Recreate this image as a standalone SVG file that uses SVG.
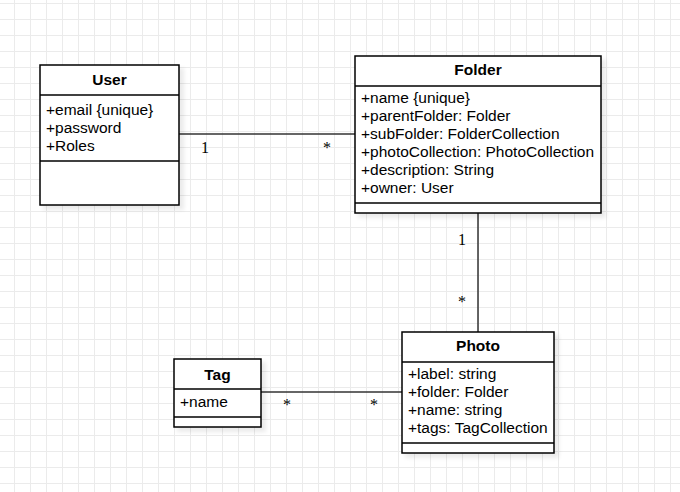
<svg xmlns="http://www.w3.org/2000/svg" width="680" height="492" viewBox="0 0 680 492">
<style>
.box{fill:#fff;stroke:#000;stroke-width:1.5}
.sep{stroke:#000;stroke-width:1.5}
.shadow{fill:#000;opacity:0.08}
.title{font-family:"Liberation Sans",Arial,sans-serif;font-size:15.5px;font-weight:bold;text-anchor:middle;fill:#000}
.attr{font-family:"Liberation Sans",Arial,sans-serif;font-size:15.5px;fill:#000}
.conn{stroke:#333;stroke-width:1.5;fill:none}
.mult{font-family:"Liberation Serif","Times New Roman",serif;font-size:16px;text-anchor:middle;fill:#000}
</style>
<defs>
<pattern id="grid" x="14" y="3" width="16" height="16" patternUnits="userSpaceOnUse">
<path d="M0.5 0V16M0 0.5H16" stroke="#ebebeb" stroke-width="1" fill="none"/>
</pattern>
<filter id="blur" x="-10%" y="-10%" width="120%" height="120%"><feGaussianBlur stdDeviation="2"/></filter>
</defs>
<rect width="680" height="492" fill="#fff"/>
<rect width="680" height="492" fill="url(#grid)"/>
<g id="connectors">
<line class="conn" x1="179" y1="134" x2="355" y2="134"/>
<text class="mult" x="205" y="153">1</text>
<text class="mult" x="327" y="153">*</text>
<line class="conn" x1="478" y1="213" x2="478" y2="332"/>
<text class="mult" x="462" y="245">1</text>
<text class="mult" x="462" y="307">*</text>
<line class="conn" x1="261" y1="392" x2="402" y2="392"/>
<text class="mult" x="287" y="410">*</text>
<text class="mult" x="374" y="410">*</text>
</g>
<g id="user">
<rect class="shadow" x="43" y="68" width="141" height="142" filter="url(#blur)"/>
<rect class="box" x="40" y="65" width="139" height="140"/>
<line class="sep" x1="40" y1="95" x2="179" y2="95"/>
<line class="sep" x1="40" y1="161" x2="179" y2="161"/>
<text class="title" x="109.5" y="84.5">User</text>
<text class="attr" x="46" y="115">+email {unique}</text>
<text class="attr" x="46" y="133">+password</text>
<text class="attr" x="46" y="151">+Roles</text>
</g>
<g id="folder">
<rect class="shadow" x="358" y="59" width="248" height="159" filter="url(#blur)"/>
<rect class="box" x="355" y="56" width="246" height="157"/>
<line class="sep" x1="355" y1="86" x2="601" y2="86"/>
<line class="sep" x1="355" y1="203" x2="601" y2="203"/>
<text class="title" x="478" y="74.5">Folder</text>
<text class="attr" x="361" y="102.5">+name {unique}</text>
<text class="attr" x="361" y="120.5">+parentFolder: Folder</text>
<text class="attr" x="361" y="138.5">+subFolder: FolderCollection</text>
<text class="attr" x="361" y="156.5">+photoCollection: PhotoCollection</text>
<text class="attr" x="361" y="174.5">+description: String</text>
<text class="attr" x="361" y="192.5">+owner: User</text>
</g>
<g id="photo">
<rect class="shadow" x="405" y="335" width="154" height="123" filter="url(#blur)"/>
<rect class="box" x="402" y="332" width="152" height="121"/>
<line class="sep" x1="402" y1="362" x2="554" y2="362"/>
<line class="sep" x1="402" y1="443" x2="554" y2="443"/>
<text class="title" x="478" y="350.5">Photo</text>
<text class="attr" x="408" y="378.5">+label: string</text>
<text class="attr" x="408" y="396.5">+folder: Folder</text>
<text class="attr" x="408" y="414.5">+name: string</text>
<text class="attr" x="408" y="432.5">+tags: TagCollection</text>
</g>
<g id="tag">
<rect class="shadow" x="177" y="362" width="89" height="70" filter="url(#blur)"/>
<rect class="box" x="174" y="359" width="87" height="68"/>
<line class="sep" x1="174" y1="389" x2="261" y2="389"/>
<line class="sep" x1="174" y1="417" x2="261" y2="417"/>
<text class="title" x="217.5" y="379.5">Tag</text>
<text class="attr" x="180" y="407">+name</text>
</g>
</svg>
